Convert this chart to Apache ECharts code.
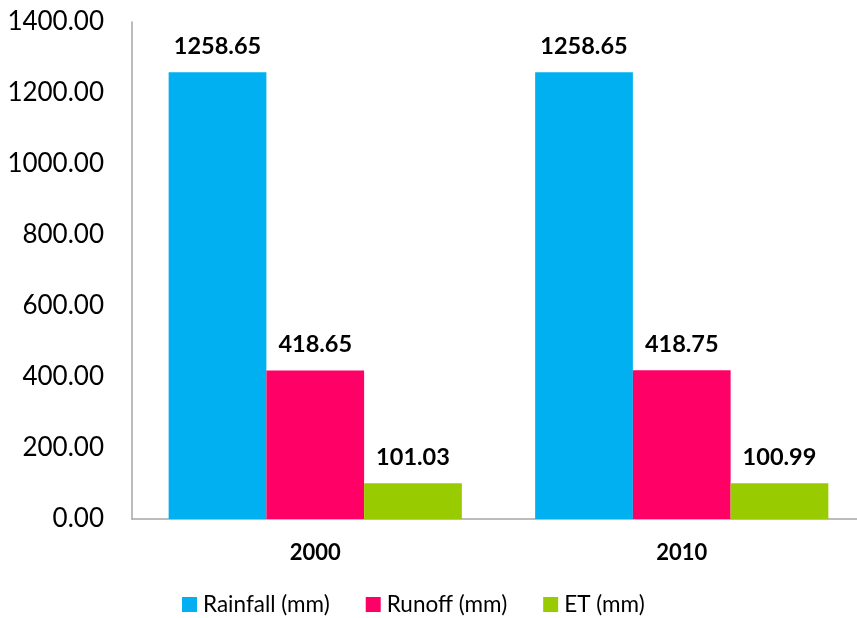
<!DOCTYPE html>
<html><head><meta charset="utf-8">
<script src="https://cdn.jsdelivr.net/npm/echarts@6/dist/echarts.min.js"></script>
<style>html,body{margin:0;padding:0;background:#fff}#c{width:857px;height:618px}</style>
</head><body><div id="c"></div>
<script>
const categories = ['2000', '2010'];
const rainfall = [1258.65, 1258.65];
const runoff = [418.65, 418.75];
const et = [101.03, 100.99];
const seriesNames = ['Rainfall (mm)', 'Runoff (mm)', 'ET (mm)'];
const yTicks = { min: 0, max: 1400, interval: 200 };

const FONT = 'Lato, "Open Sans", sans-serif';
const colors = ['#00B0F0', '#FF0066', '#99CC00'];
const chart = echarts.init(document.getElementById('c'));
const lbl = {
  show: true, position: 'top', distance: 14,
  formatter: p => p.value.toFixed(2),
  fontFamily: FONT, fontWeight: 'bold', fontSize: 23.5, color: '#000'
};
chart.setOption({
  animation: false,
  color: colors,
  grid: { left: 132, width: 733, top: 22, height: 497, outerBoundsMode: 'none', containLabel: false },
  legend: {
    top: 588, left: 177, itemWidth: 15, itemHeight: 15, itemGap: 36,
    icon: 'rect',
    textStyle: { fontFamily: FONT, fontSize: 22.5, color: '#000', padding: [0, 0, 0, 1] },
    data: seriesNames
  },
  xAxis: {
    type: 'category', data: categories,
    axisLine: { lineStyle: { color: '#A6A6A6', width: 1.5 } },
    axisTick: { show: false },
    axisLabel: { margin: 23, fontFamily: FONT, fontWeight: 'bold', fontSize: 22, color: '#000' }
  },
  yAxis: {
    type: 'value', min: yTicks.min, max: yTicks.max, interval: yTicks.interval,
    axisLine: { show: true, lineStyle: { color: '#A6A6A6', width: 1.5 } },
    axisTick: { show: false },
    splitLine: { show: false },
    axisLabel: { margin: 28, fontFamily: FONT, fontSize: 26, color: '#000', formatter: v => v.toFixed(2) }
  },
  series: [
    { name: seriesNames[0], type: 'bar', data: rainfall, barGap: '0%', barCategoryGap: '20%', label: lbl },
    { name: seriesNames[1], type: 'bar', data: runoff, barGap: '0%', barCategoryGap: '20%', label: lbl },
    { name: seriesNames[2], type: 'bar', data: et, barGap: '0%', barCategoryGap: '20%', label: lbl }
  ]
});
</script></body></html>
